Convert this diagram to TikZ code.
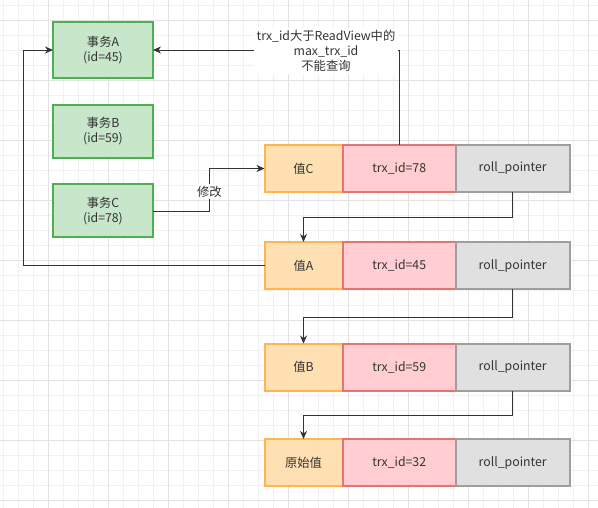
\documentclass[tikz,border=0pt]{standalone}
\usepackage{fontspec}
\setmainfont{Noto Sans CJK SC}
\usetikzlibrary{arrows.meta}
\definecolor{gfill}{HTML}{C8E6C9}\definecolor{gdraw}{HTML}{4CAF50}
\definecolor{ofill}{HTML}{FFE0B2}\definecolor{odraw}{HTML}{FFB74D}
\definecolor{rfill}{HTML}{FFCDD2}\definecolor{rdraw}{HTML}{E57373}
\definecolor{kfill}{HTML}{E0E0E0}\definecolor{kdraw}{HTML}{9E9E9E}
\definecolor{lnc}{HTML}{333333}
\definecolor{txc}{HTML}{333333}
\definecolor{gmin}{HTML}{F1F1F1}\definecolor{gmaj}{HTML}{E2E2E2}
\begin{document}
\begin{tikzpicture}[x=1pt,y=-1pt,
  font=\fontsize{12.3}{15}\selectfont,
  cell/.style={draw, line width=2pt, minimum height=47.5pt, inner sep=0pt, outer sep=0pt, text=txc, anchor=west},
  valbox/.style={cell, fill=ofill, draw=odraw, minimum width=78pt},
  trxbox/.style={cell, fill=rfill, draw=rdraw, minimum width=113.4pt},
  rollbox/.style={cell, fill=kfill, draw=kdraw, minimum width=113.6pt},
  txbox/.style={draw=gdraw, fill=gfill, line width=2pt, minimum width=100pt, inner sep=0pt, outer sep=0pt, text=txc, align=center},
  conn/.style={draw=lnc, line width=0.9pt},
  arr/.style={conn, -{Stealth[length=8pt,width=7pt,inset=2.5pt]}},
  lbl/.style={fill=white, text=txc, align=center, inner sep=1.5pt}
]
\useasboundingbox (0,0) rectangle (598,508);
\fill[white] (0,0) rectangle (598,508);
% grid
\foreach \x in {3,18,...,598} \draw[gmin, line width=0.8pt] (\x,0) -- (\x,508);
\foreach \y in {5,20,...,508} \draw[gmin, line width=0.8pt] (0,\y) -- (598,\y);
\foreach \x in {48,108,...,598} \draw[gmaj, line width=0.8pt] (\x,0) -- (\x,508);
\foreach \y in {20,80,...,508} \draw[gmaj, line width=0.8pt] (0,\y) -- (598,\y);

% transactions
\node[txbox, minimum height=56.5pt] (tA) at (103,50) {事务A\\(id=45)};
\node[txbox, minimum height=53.5pt] (tB) at (103,131.5) {事务B\\(id=59)};
\node[txbox, minimum height=53pt] (tC) at (103,210.8) {事务C\\(id=78)};

% version rows
\node[valbox] (vC) at (264.5,168.5) {值C};
\node[trxbox] (xC) at (vC.east) {trx\_id=78};
\node[rollbox] (rC) at (xC.east) {roll\_pointer};

\node[valbox] (vA) at (264.5,265.7) {值A};
\node[trxbox] (xA) at (vA.east) {trx\_id=45};
\node[rollbox] (rA) at (xA.east) {roll\_pointer};

\node[valbox] (vB) at (264.5,367.3) {值B};
\node[trxbox] (xB) at (vB.east) {trx\_id=59};
\node[rollbox] (rB) at (xB.east) {roll\_pointer};

\node[valbox] (v0) at (264.5,462.7) {原始值};
\node[trxbox] (x0) at (v0.east) {trx\_id=32};
\node[rollbox] (r0) at (x0.east) {roll\_pointer};

% roll pointer chain
\draw[arr] (rC.south) -- (rC.south |- 0,217.3) -| (vA.north);
\draw[arr] (rA.south) -- (rA.south |- 0,317.5) -| (vB.north);
\draw[arr] (rB.south) -- (rB.south |- 0,415.3) -| (v0.north);

% 值A back to 事务A
\draw[arr] (vA.west) -- (23.3,265.7) |- (tA.west);

% trx_id=78 to 事务A
\draw[arr] (xC.north) |- (tA.east);
\node[lbl, minimum width=144pt, minimum height=46pt] (note) at (326,51)
  {trx\_id大于ReadView中的\\max\_trx\_id\\不能查询};

% 修改
\coordinate (bend) at (209.3,211.7);
\draw[arr] (tC.east |- bend) -- (bend) |- (vC.west);
\node[lbl] (mod) at (209.3,191.5) {修改};
\end{tikzpicture}
\end{document}
